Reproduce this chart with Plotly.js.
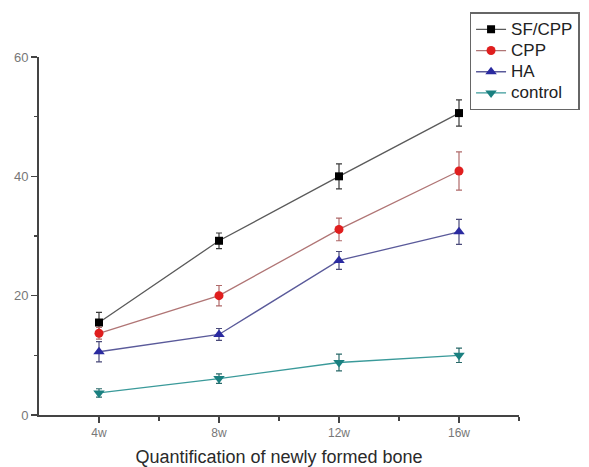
<!DOCTYPE html>
<html><head><meta charset="utf-8">
<script src="https://cdn.plot.ly/plotly-3.0.1.min.js"></script>
<style>html,body{margin:0;padding:0;background:#fff}</style>
</head><body><div id="chart" style="width:589px;height:467px"></div>
<script>
const weeks = [4, 8, 12, 16];
const weekLabels = ["4w", "8w", "12w", "16w"];
const minorWeeks = [6, 10, 14, 18];
const seriesNames = ["SF/CPP", "CPP", "HA", "control"];
const sfcpp = [15.5, 29.2, 40.0, 50.6];
const sfcppErr = [1.7, 1.3, 2.1, 2.2];
const cpp = [13.7, 20.0, 31.1, 40.9];
const cppErr = [1.0, 1.7, 1.9, 3.2];
const ha = [10.6, 13.5, 25.9, 30.7];
const haErr = [1.7, 1.0, 1.5, 2.1];
const control = [3.7, 6.1, 8.8, 10.0];
const controlErr = [0.7, 0.8, 1.4, 1.2];

const styles = [
  {line:"#5a5a5a", marker:"#000000", err:"#3a3a3a", symbol:"square", size:8},
  {line:"#b07575", marker:"#e01e1e", err:"#b06a6a", symbol:"circle", size:9},
  {line:"#5a5a9a", marker:"#2a2aa0", err:"#4a4a7a", symbol:"triangle-up", size:10},
  {line:"#3a9a9a", marker:"#1a8080", err:"#2a6a6a", symbol:"triangle-down", size:10}
];
const vals = [sfcpp, cpp, ha, control];
const errs = [sfcppErr, cppErr, haErr, controlErr];

const traces = seriesNames.map((n, i) => ({
  type: "scatter", mode: "lines+markers",
  name: '<span style="font-size:17px">' + n + '</span>',
  x: weeks, y: vals[i],
  line: {color: styles[i].line, width: 1.3},
  marker: {color: styles[i].marker, symbol: styles[i].symbol, size: styles[i].size},
  error_y: {type: "data", array: errs[i], visible: true, color: styles[i].err, thickness: 1.2, width: 3}
}));

const fam = "Liberation Sans, Arial, sans-serif";
const layout = {
  width: 589, height: 467,
  margin: {l: 39, r: 70, t: 57, b: 52, autoexpand: false},
  paper_bgcolor: "#fff", plot_bgcolor: "#fff",
  showlegend: true,
  legend: {
    x: 0.897, y: 1.125, xanchor: "left", yanchor: "top",
    bgcolor: "#fff", bordercolor: "#666", borderwidth: 1.5,
    font: {family: fam, size: 14, color: "#222"},
    tracegroupgap: 0, itemwidth: 30
  },
  xaxis: {
    range: [2, 18], tickmode: "array", tickvals: weeks, ticktext: weekLabels,
    showgrid: false, zeroline: false, showline: true, linecolor: "#444", linewidth: 2,
    ticks: "outside", ticklen: 6, tickwidth: 1.5, tickcolor: "#444",
    minor: {tickmode: "array", tickvals: minorWeeks, ticks: "outside", ticklen: 4, tickcolor: "#444", showgrid: false},
    tickfont: {family: fam, size: 12, color: "#777"},
    title: {text: "Quantification of newly formed bone", standoff: 12,
      font: {family: fam, size: 18, color: "#2a2a2a"}}
  },
  yaxis: {
    range: [0, 60], tickmode: "array", tickvals: [0, 20, 40, 60],
    showgrid: false, zeroline: false, showline: true, linecolor: "#444", linewidth: 2,
    ticks: "outside", ticklen: 6, tickwidth: 1.5, tickcolor: "#444",
    minor: {tickmode: "array", tickvals: [10, 30, 50], ticks: "outside", ticklen: 3, tickcolor: "#444", showgrid: false},
    tickfont: {family: fam, size: 13, color: "#777"}
  }
};
Plotly.newPlot("chart", traces, layout, {displayModeBar: false, staticPlot: true});
</script></body></html>
